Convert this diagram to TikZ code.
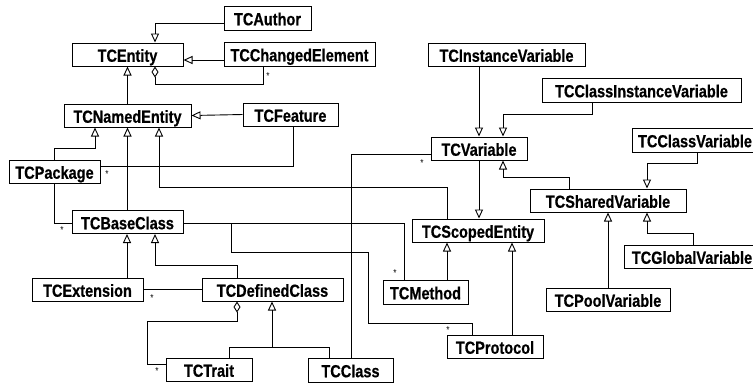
\documentclass[tikz,border=0pt]{standalone}
\usepackage{fontspec}
\newfontfamily\lblfont{Liberation Sans}[FakeStretch=0.83, BoldFeatures={FakeBold=0.6}]
\usetikzlibrary{arrows.meta}
\tikzset{
  umlbox/.style={draw, line width=1pt, fill=white, inner sep=0pt,
    font=\lblfont\bfseries\fontsize{17.5}{19}\selectfont, text height=14.5pt, text depth=0pt},
  conn/.style={line width=0.9pt},
  gen/.style={conn, -{Triangle[open,width=8pt,length=9pt]}},
  agg/.style={conn, {Diamond[open,width=7pt,length=11pt]}-},
  mult/.style={font=\lblfont\fontsize{10}{10}\selectfont, inner sep=0pt},
}
\begin{document}
\begin{tikzpicture}[x=1pt,y=-1pt]
\useasboundingbox (0,0) rectangle (753,384);
\clip (0,0) rectangle (753,384);
% classes
\node[umlbox,minimum width=87pt,minimum height=24pt] (author) at (267.5,18) {TCAuthor};
\node[umlbox,minimum width=111pt,minimum height=23pt] (entity) at (127.5,54.5) {TCEntity};
\node[umlbox,minimum width=151pt,minimum height=24pt] (changed) at (299.5,54) {TCChangedElement};
\node[umlbox,minimum width=127pt,minimum height=23pt] (named) at (127.5,115.5) {TCNamedEntity};
\node[umlbox,minimum width=95pt,minimum height=23pt] (feature) at (290.5,114.5) {TCFeature};
\node[umlbox,minimum width=91pt,minimum height=23pt] (package) at (54.5,171.5) {TCPackage};
\node[umlbox,minimum width=111pt,minimum height=23pt] (base) at (127.5,222) {TCBaseClass};
\node[umlbox,minimum width=111pt,minimum height=23pt] (ext) at (87.5,289.5) {TCExtension};
\node[umlbox,minimum width=141pt,minimum height=23pt] (defined) at (272.5,289.5) {TCDefinedClass};
\node[umlbox,minimum width=86pt,minimum height=23pt] (trait) at (209,369.5) {TCTrait};
\node[umlbox,minimum width=85pt,minimum height=24pt] (class) at (350.5,370) {TCClass};
\node[umlbox,minimum width=157pt,minimum height=23pt] (instvar) at (506.5,54.5) {TCInstanceVariable};
\node[umlbox,minimum width=199pt,minimum height=24pt] (clsinstvar) at (641.5,90) {TCClassInstanceVariable};
\node[umlbox,minimum width=96pt,minimum height=23pt] (variable) at (479,148.5) {TCVariable};
\node[umlbox,minimum width=126pt,minimum height=24pt] (clsvar) at (695,140) {TCClassVariable};
\node[umlbox,minimum width=156pt,minimum height=23pt] (shared) at (608,200.5) {TCSharedVariable};
\node[umlbox,minimum width=132pt,minimum height=23pt] (scoped) at (478,230.5) {TCScopedEntity};
\node[umlbox,minimum width=136pt,minimum height=23pt] (global) at (692,256.5) {TCGlobalVariable};
\node[umlbox,minimum width=124pt,minimum height=23pt] (pool) at (608,299.5) {TCPoolVariable};
\node[umlbox,minimum width=85pt,minimum height=24pt] (method) at (425.5,292) {TCMethod};
\node[umlbox,minimum width=96pt,minimum height=23pt] (protocol) at (495,346.5) {TCProtocol};
% connectors
\draw[gen] (author.west |- 0,23) -| (155,0 |- entity.north);
\draw[gen] (changed.west |- 0,60) -- (entity.east |- 0,60);
\draw[agg] (155,0 |- entity.south) |- (263,84) -- (263,0 |- changed.south);
\draw[gen] (named.north) -- (entity.south);
\draw[gen] (feature.west) -- (named.east);
\draw[gen] (54,0 |- package.north) |- (95,148) -- (95,0 |- named.south);
\draw[gen] (base.north) -- (named.south);
\draw[gen] (447,0 |- scoped.north) |- (159,187) -- (159,0 |- named.south);
\draw[conn] (package.east |- 0,166) -| (293,0 |- feature.south);
\draw[conn] (54,0 |- package.south) |- (base.west |- 0,223);
\draw[conn] (base.east |- 0,223) -| (404,0 |- method.north);
\draw[conn] (231,223) |- (368,252) |- (472,323) -- (472,0 |- protocol.north);
\draw[gen] (127,0 |- ext.north) -- (127,0 |- base.south);
\draw[gen] (237,0 |- defined.north) |- (155,265) -- (155,0 |- base.south);
\draw[conn] (ext.east |- 0,289) -- (defined.west |- 0,289);
\draw[agg] (237,0 |- defined.south) |- (147,321) |- (trait.west |- 0,364);
\draw[conn] (229,0 |- trait.north) |- (329,347) -- (329,0 |- class.north);
\draw[gen] (272,347) -- (272,0 |- defined.south);
\draw[conn] (351,0 |- class.north) |- (variable.west |- 0,154);
\draw[gen] (479,0 |- instvar.south) -- (479,0 |- variable.north);
\draw[gen] (592,0 |- clsinstvar.south) |- (503,114) -- (503,0 |- variable.north);
\draw[gen] (479,0 |- variable.south) -- (479,0 |- scoped.north);
\draw[gen] (569,0 |- shared.north) |- (503,177) -- (503,0 |- variable.south);
\draw[gen] (697,0 |- clsvar.south) |- (647,163) -- (647,0 |- shared.north);
\draw[gen] (693,0 |- global.north) |- (647,233) -- (647,0 |- shared.south);
\draw[gen] (pool.north) -- (shared.south);
\draw[gen] (447,0 |- method.north) -- (447,0 |- scoped.south);
\draw[gen] (512,0 |- protocol.north) -- (512,0 |- scoped.south);
% multiplicities
\node[mult] (m1) at (268,76) {*};
\node[mult] (m2) at (107,174) {*};
\node[mult] (m3) at (62,230) {*};
\node[mult] (m4) at (395,273) {*};
\node[mult] (m5) at (448,330) {*};
\node[mult] (m6) at (152,298) {*};
\node[mult] (m7) at (157,371) {*};
\node[mult] (m8) at (422,163) {*};
\end{tikzpicture}
\end{document}
